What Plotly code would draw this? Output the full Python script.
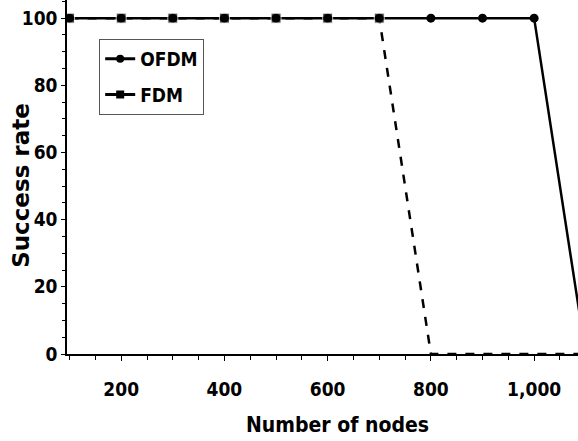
import plotly.graph_objects as go

nodes = [100, 200, 300, 400, 500, 600, 700, 800, 900, 1000, 1100]
ofdm = [100, 100, 100, 100, 100, 100, 100, 100, 100, 100, 0]
fdm = [100, 100, 100, 100, 100, 100, 100, 0, 0, 0, 0]
x_ticks = [200, 400, 600, 800, 1000]
y_ticks = [0, 20, 40, 60, 80, 100]

fdm_size = [10] * 7 + [0] * 4

COND = "DejaVu Sans Condensed, DejaVu Sans, sans-serif"

fig = go.Figure()
fig.add_trace(go.Scatter(
    x=nodes, y=ofdm, name="OFDM", mode="lines+markers", showlegend=False,
    line=dict(color="black", width=2.5),
    marker=dict(symbol="circle", size=9, color="black"),
))
fig.add_trace(go.Scatter(
    x=nodes, y=fdm, name="FDM", mode="lines+markers", showlegend=False,
    line=dict(color="black", width=2.5, dash="dash"),
    marker=dict(symbol="square", size=fdm_size, color="black"),
))
# legend entries
fig.add_trace(go.Scatter(
    x=[None], y=[None], name="OFDM", mode="lines+markers", legendgroup="a",
    line=dict(color="black", width=3),
    marker=dict(symbol="circle", size=8, color="black"),
))
fig.add_trace(go.Scatter(
    x=[None], y=[None], name="FDM", mode="lines+markers", legendgroup="b",
    line=dict(color="black", width=3),
    marker=dict(symbol="square", size=8, color="black"),
))

tickfont = dict(family=COND, size=19, color="black", weight="bold")
fig.update_layout(
    width=578, height=441,
    margin=dict(l=67, r=0, t=0, b=87),
    plot_bgcolor="white", paper_bgcolor="white",
    showlegend=True,
    legend=dict(
        x=0.063, y=0.89, xanchor="left", yanchor="top",
        bordercolor="#555555", borderwidth=1, bgcolor="white",
        font=dict(family=COND, size=19, color="black", weight="bold"),
        itemwidth=30, tracegroupgap=8,
    ),
    xaxis=dict(
        range=[95, 1085], tickvals=x_ticks, tickformat=",", automargin=False,
        showline=True, linecolor="black", linewidth=1.5,
        ticks="outside", ticklen=5, tickcolor="black",
        minor=dict(dtick=50, ticks="outside", ticklen=4, tickcolor="black"),
        showgrid=False, zeroline=False, tickfont=tickfont,
        ticklabelstandoff=12, ticklabeloverflow="allow",
    ),
    yaxis=dict(
        range=[0, 105.4], tickvals=y_ticks, automargin=False,
        showline=True, linecolor="black", linewidth=1.5,
        ticks="outside", ticklen=4, tickcolor="black",
        minor=dict(dtick=5, ticks="outside", ticklen=3, tickcolor="black"),
        showgrid=False, zeroline=False, tickfont=tickfont,
        ticklabelstandoff=0, ticklabeloverflow="allow",
    ),
    annotations=[
        dict(text="Number of nodes", xref="paper", yref="paper", x=0.53, y=-0.2,
             xanchor="center", yanchor="middle", showarrow=False,
             font=dict(family=COND, size=21, color="black", weight="bold")),
        dict(text="Success rate", xref="paper", yref="paper", x=-0.09, y=0.475,
             xanchor="center", yanchor="middle", showarrow=False, textangle=-90,
             font=dict(family="DejaVu Sans", size=23, color="black", weight="bold")),
    ],
)
fig.write_html(
    "out.html",
    config={"displayModeBar": False},
    post_script="document.body.style.margin='0';document.body.style.overflow='hidden';",
)
